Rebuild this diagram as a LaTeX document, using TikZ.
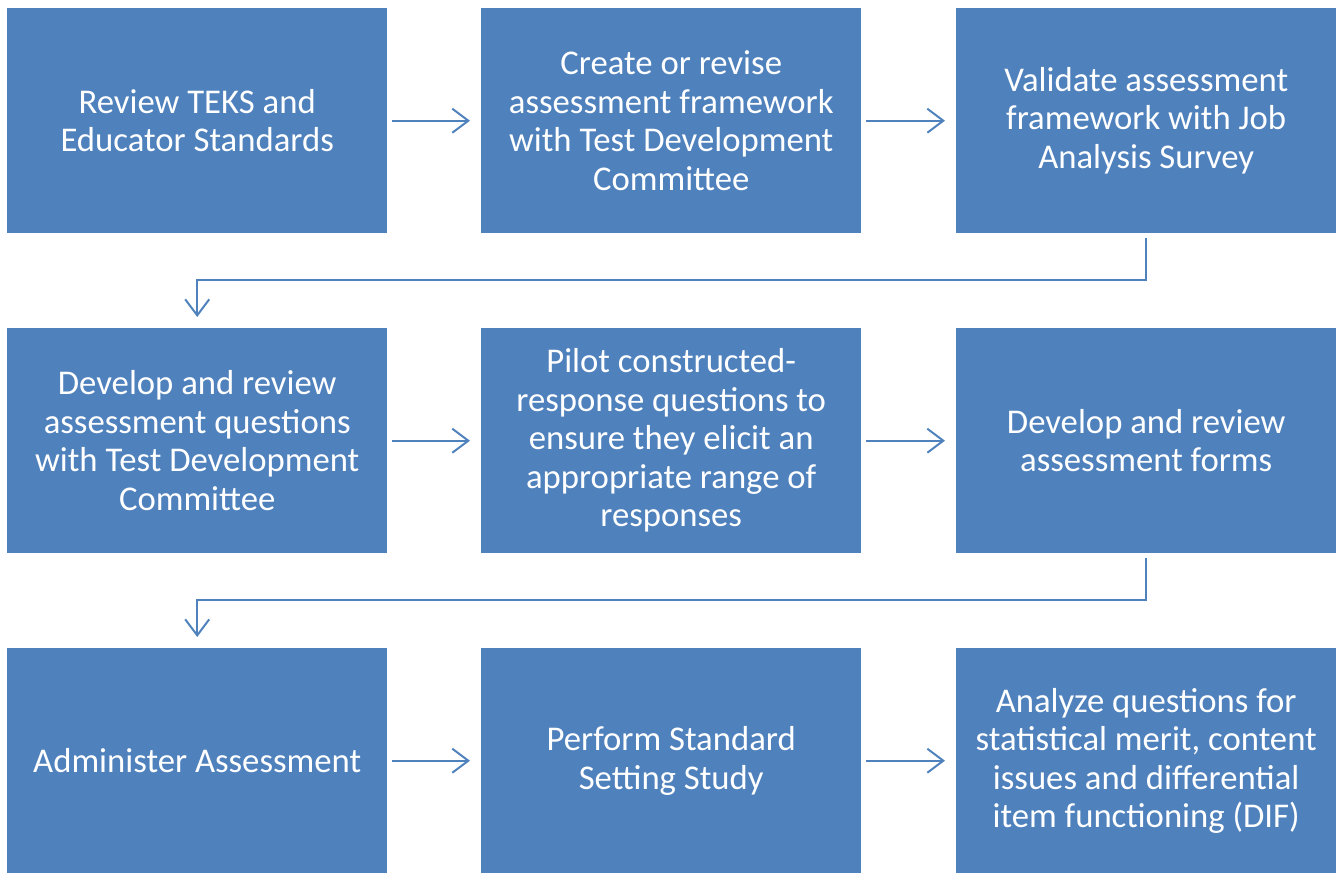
\documentclass[tikz,border=0pt]{standalone}
\usepackage{fontspec}
\setmainfont{Carlito}
\usetikzlibrary{arrows.meta}
\definecolor{boxblue}{HTML}{4F81BD}
\tikzset{
  stepbox/.style={fill=boxblue, draw=none, minimum width=380pt, minimum height=225pt, inner sep=0pt,
    text=white, align=center, font=\fontsize{34.7pt}{38.5pt}\selectfont, anchor=north west},
  conn/.style={draw=boxblue, line width=2pt, -{Straight Barb[length=16pt,width=24pt,line width=2pt]}}
}
\begin{document}
\begin{tikzpicture}[x=1pt,y=1pt]
\useasboundingbox (0,0) rectangle (1339,-873);
\node[stepbox] (b1) at (7,-8) {Review TEKS and\\Educator Standards};
\node[stepbox] (b2) at (481,-8) {Create or revise\\assessment framework\\with Test Development\\Committee};
\node[stepbox] (b3) at (956,-8) {Validate assessment\\framework with Job\\Analysis Survey};
\node[stepbox] (b4) at (7,-328) {Develop and review\\assessment questions\\with Test Development\\Committee};
\node[stepbox] (b5) at (481,-328) {Pilot constructed-\\response questions to\\ensure they elicit an\\appropriate range of\\responses};
\node[stepbox] (b6) at (956,-328) {Develop and review\\assessment forms};
\node[stepbox] (b7) at (7,-648) {Administer Assessment};
\node[stepbox] (b8) at (481,-648) {Perform Standard\\Setting Study};
\node[stepbox] (b9) at (956,-648) {Analyze questions for\\statistical merit, content\\issues and differential\\item functioning (DIF)};
\draw[conn] ([xshift=5pt]b1.east) -- ([xshift=-11pt]b2.west);
\draw[conn] ([xshift=5pt]b2.east) -- ([xshift=-11pt]b3.west);
\draw[conn] ([xshift=5pt]b4.east) -- ([xshift=-11pt]b5.west);
\draw[conn] ([xshift=5pt]b5.east) -- ([xshift=-11pt]b6.west);
\draw[conn] ([xshift=5pt]b7.east) -- ([xshift=-11pt]b8.west);
\draw[conn] ([xshift=5pt]b8.east) -- ([xshift=-11pt]b9.west);
\draw[conn] ([yshift=-5pt]b3.south) -- ++(0,-42) -| ([yshift=11pt]b4.north);
\draw[conn] ([yshift=-5pt]b6.south) -- ++(0,-42) -| ([yshift=11pt]b7.north);
\end{tikzpicture}
\end{document}
